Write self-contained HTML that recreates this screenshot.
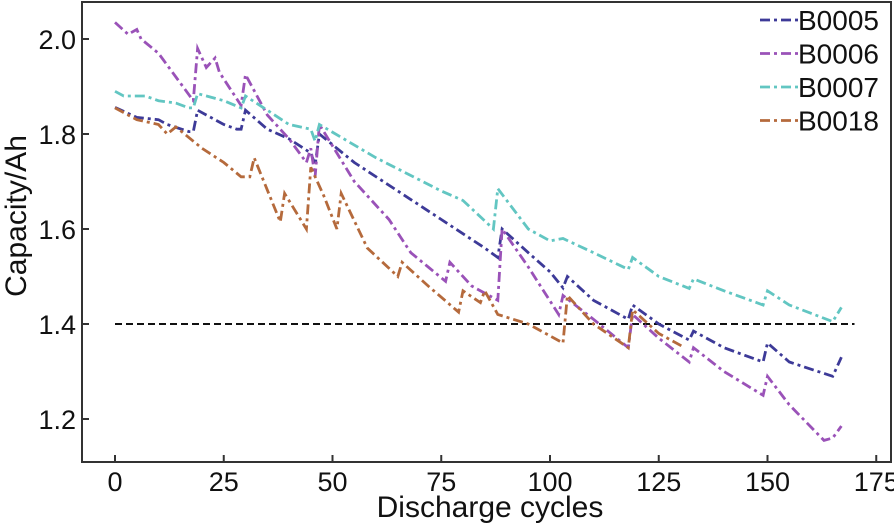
<!DOCTYPE html>
<html><head><meta charset="utf-8"><style>
body{margin:0;background:#fff;}
svg{display:block;font-family:"Liberation Sans",sans-serif;}
</style></head><body>
<svg id="chart" width="894" height="524"></svg>
<script>
const xTicks=[0,25,50,75,100,125,150,175];
const yTicks=[1.2,1.4,1.6,1.8,2.0];
const names=["B0005","B0006","B0007","B0018"];
const colors=["#3d3a98","#9a52b8","#62c6c2","#b56a3c"];
const b5c=[0,5,10,12,17,18,19,25,28,29,30,35,40,45,46,47,55,65,75,85,88,89,95,100,103,104,110,118,119,125,132,133,140,149,150,155,165,167];
const b5v=[1.856,1.835,1.83,1.82,1.805,1.805,1.85,1.82,1.81,1.81,1.85,1.81,1.79,1.76,1.735,1.80,1.74,1.68,1.62,1.56,1.54,1.60,1.55,1.51,1.476,1.50,1.45,1.41,1.44,1.40,1.366,1.385,1.35,1.32,1.36,1.32,1.29,1.33];
const b6c=[0,3,5,6,10,18,19,21,23,24,29,30,35,40,44,45,46,47,55,63,68,72,76,77,82,88,89,95,102,103,110,118,119,125,132,133,140,149,150,155,163,165,167];
const b6v=[2.035,2.01,2.02,2.0,1.97,1.87,1.98,1.94,1.96,1.93,1.86,1.925,1.84,1.79,1.74,1.77,1.71,1.82,1.70,1.62,1.55,1.52,1.49,1.53,1.48,1.45,1.60,1.52,1.42,1.46,1.41,1.35,1.42,1.37,1.32,1.35,1.30,1.25,1.29,1.23,1.155,1.16,1.185];
const b7c=[0,2,7,10,14,17,18,19,25,29,30,35,40,45,46,47,60,75,80,87,88,95,100,103,110,118,119,125,132,133,140,149,150,155,165,167];
const b7v=[1.89,1.88,1.88,1.87,1.865,1.855,1.855,1.885,1.87,1.855,1.88,1.85,1.82,1.81,1.785,1.82,1.75,1.68,1.66,1.60,1.685,1.60,1.575,1.58,1.55,1.515,1.54,1.50,1.475,1.495,1.47,1.44,1.47,1.44,1.405,1.435];
const b18c=[0,5,10,12,14,20,25,29,31,32,38,39,44,45,48,51,52,58,65,66,72,79,80,84,85,88,95,103,104,110,118,119,125,131];
const b18v=[1.855,1.83,1.82,1.80,1.815,1.77,1.74,1.71,1.71,1.75,1.615,1.675,1.60,1.73,1.67,1.60,1.675,1.56,1.50,1.53,1.48,1.425,1.47,1.445,1.47,1.42,1.40,1.36,1.46,1.40,1.35,1.43,1.38,1.35];
const threshold=1.4;
const NS="http://www.w3.org/2000/svg";
const svg=document.getElementById('chart');
const X=v=>115+v*4.35;
const Y=v=>39+(2.0-v)/0.2*95;
function mk(t,a){const e=document.createElementNS(NS,t);for(const k in a)e.setAttribute(k,a[k]);svg.appendChild(e);return e;}
const frame=mk('rect',{x:82,y:2,width:809,height:460,fill:'none',stroke:'#333',"stroke-width":2});


xTicks.forEach(t=>{
 const l=mk('line',{x1:X(t),x2:X(t),y1:462,y2:455,stroke:'#333',"stroke-width":2});
 
 
 const tx=mk('text',{x:X(t),y:491,"text-anchor":"middle","font-size":27,fill:'#111'});
 tx.textContent=t;
 
 
});
yTicks.forEach(t=>{
 const l=mk('line',{x1:82,x2:89,y1:Y(t),y2:Y(t),stroke:'#333',"stroke-width":2});
 
 
 const tx=mk('text',{x:76,y:Y(t)+10,"text-anchor":"end","font-size":27,fill:'#111'});
 tx.textContent=t.toFixed(1);
 
 
});
const th=mk('line',{x1:X(0),x2:X(170),y1:Y(threshold),y2:Y(threshold),stroke:'#111',"stroke-width":2,"stroke-dasharray":"7 4"});


const series=[[b5c,b5v],[b6c,b6v],[b7c,b7v],[b18c,b18v]];
series.forEach((s,i)=>{
 const d=s[0].map((c,j)=>(j?'L':'M')+X(c).toFixed(1)+','+Y(s[1][j]).toFixed(1)).join('');
 const p=mk('path',{d:d,fill:'none',stroke:colors[i],"stroke-width":2.8,"stroke-dasharray":"10 4 3 4"});
 
 
});
names.forEach((n,i)=>{
 const y=20+i*33.5;
 const l=mk('line',{x1:760,x2:798,y1:y,y2:y,stroke:colors[i],"stroke-width":2.8,"stroke-dasharray":"10 4 3 4"});
 
 
 const t=mk('text',{x:798,y:y+10,"font-size":28,fill:'#111'});
 t.textContent=n;
 
 
});
const xt=mk('text',{x:490,y:517,"text-anchor":"middle","font-size":30,fill:'#111'});
xt.textContent='Discharge cycles';


const yt=mk('text',{x:0,y:0,"text-anchor":"middle","font-size":30,fill:'#111',transform:'translate(26,216) rotate(-90)'});
yt.textContent='Capacity/Ah';


</script>
</body></html>
